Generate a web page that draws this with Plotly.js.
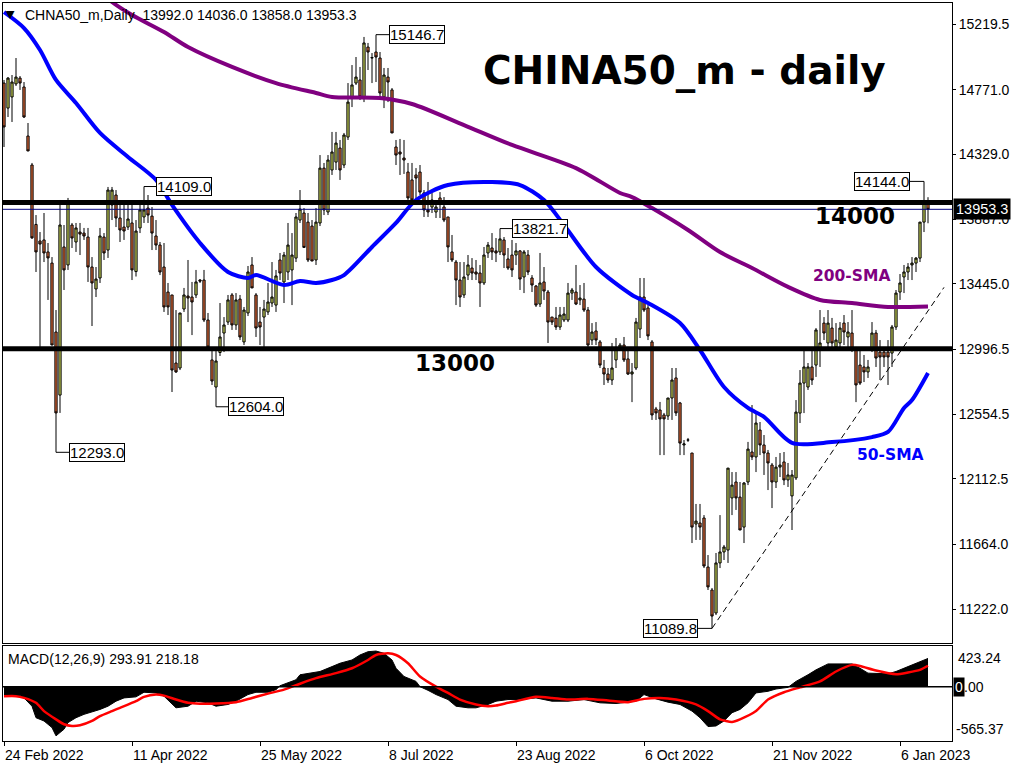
<!DOCTYPE html>
<html><head><meta charset="utf-8">
<script src="https://cdn.plot.ly/plotly-3.0.1.min.js"></script>
<style>html,body{margin:0;padding:0;background:#fff}#chart{width:1024px;height:768px}</style>
</head><body><div id="chart"></div>
<script>
// ---------------- data ----------------
const symbol = 'CHNA50_m,Daily';
const titleText = 'CHINA50_m - daily';
const dateTickIdx = [0, 32, 64, 96, 128, 160, 192, 224];
const dateTickText = ['24 Feb 2022', '11 Apr 2022', '25 May 2022', '8 Jul 2022', '23 Aug 2022', '6 Oct 2022', '21 Nov 2022', '6 Jan 2023'];
const priceTicks = [15219.5, 14771.0, 14329.0, 13887.0, 13445.0, 12996.5, 12554.5, 12112.5, 11664.0, 11222.0];

const openP = [14816,14645,14721,14810,14850,14789,14454,14256,13850,13737,13744,13662,13586,13115,12684,13696,13573,13846,13730,13798,
13791,13764,13559,13409,13484,13764,13675,13983,14051,13894,13832,13832,13860,13528,13826,13901,13962,13907,13771,13709,
13559,13388,13368,12903,12869,13272,13361,13354,13368,13470,13470,13197,12924,12739,12975,13108,13183,13368,13163,13340,
13047,13245,13573,13368,13183,13217,13252,13313,13299,13607,13457,13525,13539,13620,13880,13928,13866,13839,13607,13860,
14235,13935,14222,14276,14372,14256,14447,14721,14816,14837,14721,15062,14987,15028,14987,14721,14857,14769,14379,14345,
14304,14208,14154,14188,14208,14065,13949,13969,13935,14031,13969,13901,13662,13593,13470,13368,13504,13552,13525,13518,
13450,13655,13689,13669,13662,13744,13614,13641,13641,13669,13491,13641,13484,13429,13306,13457,13388,13217,13210,13149,
13197,13197,13381,13388,13334,13340,13265,13060,13122,13047,12869,12828,12787,12924,13006,13026,12931,12828,12869,13135,
13354,13279,13047,12589,12582,12548,12541,12664,12801,12630,12343,12377,12288,11803,11810,11844,11509,11352,11195,11537,
11612,11625,11981,12090,11987,11782,12090,12295,12261,12445,12343,12288,12206,12090,12192,12227,12104,11995,12118,12561,
12766,12739,12876,12889,12992,13176,13040,13142,13013,13040,13176,13081,13108,12992,12889,12876,12842,12992,13108,12978,
12978,12978,12971,13149,13388,13491,13525,13573,13586,13620,13866,13992.0];
const highP = [14837,14857,14871,14987,14864,14823,14543,14270,13914,13798,13928,13723,13627,13265,14017,13846,14031,13860,13860,13860,
13826,13826,13627,13559,13826,13791,14106,14106,14085,13983,13996,13996,13996,13880,14017,14109.0,14051,13969,13880,13730,
13723,13450,13368,13265,13245,13416,13607,13457,13539,13477,13539,13245,12992,12990,13313,13217,13368,13381,13381,13368,
13286,13566,13627,13381,13286,13334,13450,13593,13539,13655,13662,13860,13791,13928,14085,13962,13928,13880,13962,14324,
14270,14324,14482,14482,14427,14475,14816,14939,14994,14926,15131,15090,15021,15146.7,15028,14919,14919,14782,14427,14434,
14427,14270,14270,14235,14256,14085,14140,14065,14017,14071,14037,13901,13778,13607,13593,13593,13641,13620,13607,13573,
13696,13730,13791,13757,13821.7,13764,13689,13744,13723,13675,13675,13675,13504,13436,13655,13559,13402,13217,13286,13286,
13286,13450,13416,13573,13436,13450,13286,13176,13183,13060,12924,12869,13040,13074,13040,13081,12999,12903,13211,13484,
13484,13299,13060,12603,12637,12562,12664,12869,12869,12637,12377,12391,12288,11940,11940,11864,11591,11366,11605,11864,
11660,12185,12158,12158,12090,12090,12364,12616,12561,12500,12411,12309,12220,12261,12288,12295,12220,12172,12650,12855,
12992,12903,13013,13142,13265,13217,13265,13211,13176,13183,13231,13183,13265,13013,12992,12958,12924,13183,13129,13060,
12992,13060,13163,13402,13511,13573,13586,13627,13627,13866,14144.0,14036.0];
const lowP = [14379,14584,14550,14796,14769,14577,14351,13751,13525,13013,13593,13334,13026,12293.0,12562,13402,13539,13689,13662,13641,
13744,13457,13156,13354,13450,13607,13621,13880,13832,13730,13744,13812,13470,13494,13791,13860,13860,13675,13675,13504,
13252,13231,12705,12835,12855,13252,13183,13094,13347,13450,13183,13012,12753,12604.0,12951,12978,13163,13129,13129,13060,
13026,13224,13416,13081,13026,13013,13231,13286,13252,13470,13313,13470,13299,13593,13860,13693,13593,13600,13573,13839,
13914,13914,14188,14222,14154,14235,14427,14652,14803,14700,14686,14905,14816,14823,14700,14645,14686,14475,14256,14188,
14195,14017,13996,14017,14051,13901,13901,13928,13894,13894,13866,13593,13593,13299,13286,13347,13470,13470,13470,13286,
13436,13621,13607,13593,13641,13552,13539,13491,13573,13402,13381,13504,13388,13286,13286,13334,13040,13163,13129,13129,
13183,13183,13334,13299,13299,13252,13013,13026,13026,12869,12753,12767,12753,12869,12992,12910,12821,12636,12855,13074,
13252,13060,12514,12514,12274,12274,12514,12514,12541,12274,12274,12364,11673,11694,11694,11502,11352,11089.8,11181,11502,
11557,11537,11864,11899,11762,11673,12069,12240,12158,12274,12138,12035,11912,12049,12124,12069,12056,11762,12104,12493,
12561,12719,12753,12808,12876,13060,13006,13006,12992,12992,13026,13013,12978,12636,12753,12773,12801,12978,12876,12787,
12876,12753,12876,13129,13334,13381,13470,13470,13525,13593,13798,13858.0];
const closeP = [14516,14850,14823,14857,14816,14584,14352,13758,13662,13716,13655,13621,13026,12562,13846,13539,13996,13757,13826,13784,
13771,13559,13450,13477,13771,13655,14085,14085,13894,13812,13805,13887,13539,13805,13949,13949,13914,13791,13709,13525,
13286,13286,12855,12842,13245,13368,13347,13320,13457,13463,13197,13012,12780,12917,13081,13163,13334,13163,13334,13081,
13265,13525,13416,13142,13149,13272,13320,13354,13498,13518,13641,13709,13641,13901,13955,13693,13607,13600,13866,14235,
13949,14290,14345,14406,14222,14461,14686,14803,14857,14721,15090,15028,14990,14994,14748,14871,14823,14475,14324,14331,
14290,14031,14017,14167,14071,13949,13935,14017,13969,13996,13880,13696,13607,13470,13354,13491,13573,13518,13511,13450,
13641,13709,13662,13655,13751,13641,13552,13539,13669,13477,13662,13525,13436,13299,13450,13395,13183,13183,13149,13231,
13238,13381,13402,13306,13347,13265,13026,13115,13060,12889,12828,12787,12869,13006,13026,12924,12828,12842,13183,13354,
13265,13088,12548,12562,12521,12521,12664,12787,12562,12356,12350,12377,11782,11823,11782,11516,11373,11174,11537,11612,
11646,12185,12069,11981,11762,12083,12315,12261,12493,12343,12288,12220,12090,12192,12206,12104,12138,12138,12568,12766,
12876,12876,12787,13129,13040,13108,13176,13040,13060,13142,13115,13115,12992,12753,12766,12842,12876,13108,12937,12944,
12944,12944,13149,13381,13450,13525,13559,13586,13620,13866,13996,13953.3];

// moving averages
const sma50Idx = [0,5,9,13,18,24,31,38,42,49,56,61,63,70,74,78,82,85,92,98,103,111,122,129,135,140,148,157,161,169,174,180,186,190,197,207,217,221,225,227,231];
const sma50Val = [15301,15192,15042,14837,14680,14475,14311,14154,13983,13723,13525,13484,13504,13436,13463,13450,13470,13504,13696,13860,14017,14119,14140,14119,14017,13846,13559,13368,13313,13176,12992,12739,12596,12535,12357,12363,12397,12432,12596,12650,12835];
const sma200Idx = [26,27,32,40,46,57,68,78,82,94,102,115,127,143,154,157,162,171,179,187,196,204,212,221,231];
const sma200Val = [15395,15370,15281,15165,15062,14926,14816,14748,14721,14714,14673,14529,14393,14235,14065,14037,13962,13812,13661,13552,13423,13334,13313,13286,13290];

// MACD(12,26,9): main (histogram) and signal
const macdIdx = [0,4,5,7,8,10,12,13,14,15,16,18,20,23,24,26,28,30,33,35,38,40,42,43,46,48,51,53,56,58,61,63,66,68,69,71,73,74,77,79,82,84,87,89,91,93,95,97,98,100,103,104,106,108,111,113,116,118,121,123,126,128,133,137,141,145,149,153,158,160,163,166,169,172,174,176,178,180,182,184,186,188,191,193,196,198,201,203,206,212,214,216,221,223,226,228,231];
const macdVal = [-93,-93,-117,-203,-323,-357,-426,-512,-477,-443,-374,-323,-288,-254,-237,-203,-151,-117,-106,-58,-65,-99,-185,-220,-203,-151,-168,-203,-185,-151,-82,-58,-58,-31,10,38,72,124,141,158,209,244,278,330,364,371,347,278,192,106,55,0,-38,-82,-134,-203,-220,-220,-185,-151,-134,-134,-117,-151,-151,-134,-168,-175,-151,-82,-127,-161,-185,-254,-323,-415,-409,-357,-271,-237,-168,-65,-48,-24,-7,55,124,175,237,237,192,141,134,158,209,244,293.91];
const signalIdx = [0,3,5,8,10,13,15,17,19,22,24,27,29,33,35,38,40,43,46,49,53,58,62,66,70,74,78,83,87,91,93,96,98,101,104,108,111,114,118,121,123,126,128,133,137,141,146,151,156,160,164,168,173,176,179,182,184,188,191,195,199,204,208,212,214,218,223,226,229,231];
const signalVal = [-99,-99,-117,-168,-254,-340,-391,-409,-402,-357,-306,-254,-220,-151,-106,-82,-93,-134,-168,-178,-175,-161,-117,-72,-31,31,89,141,192,278,330,347,330,244,106,0,-65,-134,-185,-203,-196,-168,-151,-106,-117,-134,-127,-144,-161,-127,-117,-134,-185,-254,-340,-367,-340,-254,-134,-58,-7,55,158,227,216,168,130,148,175,218.18];
const macdRange = [-565.37, 423.24];

// horizontal levels, trend line, price labels
const levels = [14000, 13000];
const levelLabels = ['14000', '13000'];
const levelLabelIdx = [212.75, 112.75];
const trendIdx = [177, 235];
const trendVal = [11089.8, 13420];
const markIdx = [93, 35, 124, 230, 53, 13, 177];
const markSide = ['high', 'high', 'high', 'high', 'low', 'low', 'low'];
const markShift = [41, 40, 40, -42, 40, 41, -42];
const smaLabels = [{text: '200-SMA', idx: 211.75, val: 13500, color: '#800080'}, {text: '50-SMA', idx: 221.5, val: 12275, color: '#0000ff'}];

// ---------------- figure ----------------
const barIdx = openP.map((_, i) => i);
const n = closeP.length;
const lastClose = closeP[n - 1];
const FONT = 'Liberation Sans, Arial, sans-serif';
const BOLD = 'DejaVu Sans, Verdana, sans-serif';

const traces = [
  {
    type: 'candlestick', x: barIdx, open: openP, high: highP, low: lowP, close: closeP,
    xaxis: 'x', yaxis: 'y', whiskerwidth: 0, hoverinfo: 'skip',
    increasing: {line: {color: '#000000', width: 1}, fillcolor: '#c8d458'},
    decreasing: {line: {color: '#000000', width: 1}, fillcolor: '#e06a38'}
  },
  {
    type: 'scatter', mode: 'lines', x: sma200Idx, y: sma200Val, xaxis: 'x', yaxis: 'y',
    line: {color: '#800080', width: 4, shape: 'spline', smoothing: 0.8}, hoverinfo: 'skip'
  },
  {
    type: 'scatter', mode: 'lines', x: sma50Idx, y: sma50Val, xaxis: 'x', yaxis: 'y',
    line: {color: '#0000ff', width: 4, shape: 'spline', smoothing: 0.8}, hoverinfo: 'skip'
  },
  {
    type: 'scatter', mode: 'lines', x: macdIdx, y: macdVal, xaxis: 'x2', yaxis: 'y2',
    fill: 'tozeroy', fillcolor: '#000000', line: {color: '#000000', width: 1}, hoverinfo: 'skip'
  },
  {
    type: 'scatter', mode: 'lines', x: signalIdx, y: signalVal, xaxis: 'x2', yaxis: 'y2',
    line: {color: '#ff0000', width: 2.5, shape: 'spline', smoothing: 0.6}, hoverinfo: 'skip'
  }
];

const shapes = [];
levels.forEach(v => shapes.push({type: 'line', xref: 'paper', x0: 0, x1: 1, yref: 'y', y0: v, y1: v,
  line: {color: '#000000', width: 5}, layer: 'above'}));
shapes.push({type: 'line', xref: 'paper', x0: 0, x1: 1, yref: 'y', y0: lastClose, y1: lastClose,
  line: {color: '#000080', width: 1}, layer: 'above'});
shapes.push({type: 'line', xref: 'x', yref: 'y', x0: trendIdx[0], y0: trendVal[0], x1: trendIdx[1], y1: trendVal[1],
  line: {color: '#000000', width: 1, dash: '6px,4px'}, layer: 'above'});
shapes.push({type: 'line', xref: 'paper', x0: 0, x1: 1, yref: 'y2', y0: 0, y1: 0,
  line: {color: '#000000', width: 1.5}, layer: 'above'});

const annotations = [];
// header
annotations.push({xref: 'paper', yref: 'paper', x: 0, y: 1, xanchor: 'left', yanchor: 'top', xshift: 1, yshift: -3,
  text: '▼', showarrow: false, font: {family: BOLD, size: 11, color: '#000'}});
annotations.push({xref: 'paper', yref: 'paper', x: 0, y: 1, xanchor: 'left', yanchor: 'top', xshift: 20, yshift: -2,
  text: symbol + '\u00a0\u00a0' + [openP[n-1], highP[n-1], lowP[n-1], closeP[n-1]].map(v => v.toFixed(1)).join(' '),
  showarrow: false, font: {family: FONT, size: 14, color: '#000'}});
// title
annotations.push({xref: 'paper', yref: 'paper', x: 0.7176, y: 0.908, xanchor: 'center', yanchor: 'middle',
  text: '<b>' + titleText + '</b>', showarrow: false, font: {family: BOLD, size: 39, color: '#000'}});
// level labels
levels.forEach((v, i) => annotations.push({xref: 'x', yref: 'y', x: levelLabelIdx[i], y: v, xanchor: 'center', yanchor: 'top',
  yshift: 1, text: '<b>' + levelLabels[i] + '</b>', showarrow: false, font: {family: BOLD, size: 23, color: '#000'}}));
// SMA labels
smaLabels.forEach(s => annotations.push({xref: 'x', yref: 'y', x: s.idx, y: s.val, xanchor: 'center', yanchor: 'middle',
  text: '<b>' + s.text + '</b>', showarrow: false, font: {family: BOLD, size: 15.5, color: s.color}}));
// high / low price labels
markIdx.forEach((k, i) => {
  const v = markSide[i] === 'high' ? highP[k] : lowP[k];
  annotations.push({xref: 'x', yref: 'y', x: k, y: v, text: v.toFixed(1), showarrow: true, arrowhead: 0,
    arrowwidth: 1, arrowcolor: '#000', ax: markShift[i], ay: 0, standoff: 0, startstandoff: 0,
    bgcolor: '#ffffff', bordercolor: '#000000', borderwidth: 1, borderpad: 0,
    font: {family: FONT, size: 15, color: '#000'}});
});
// current price box on the axis
annotations.push({xref: 'paper', yref: 'y', x: 1, y: lastClose, xanchor: 'left', yanchor: 'middle', xshift: 1,
  text: lastClose.toFixed(1), showarrow: false, bgcolor: '#000000', borderpad: 2,
  font: {family: FONT, size: 14.5, color: '#ffffff'}});
// MACD header and scale labels
annotations.push({xref: 'paper', yref: 'paper', x: 0, y: 0.1287, xanchor: 'left', yanchor: 'top', xshift: 3, yshift: -3,
  text: 'MACD(12,26,9) ' + macdVal[macdVal.length - 1].toFixed(2) + ' ' + signalVal[signalVal.length - 1].toFixed(2),
  showarrow: false, font: {family: FONT, size: 14, color: '#000'}});
annotations.push({xref: 'paper', yref: 'y2', x: 1, y: macdRange[1], xanchor: 'left', yanchor: 'top', xshift: 4, yshift: -2,
  text: macdRange[1].toFixed(2), showarrow: false, font: {family: FONT, size: 14, color: '#000'}});
annotations.push({xref: 'paper', yref: 'y2', x: 1, y: macdRange[0], xanchor: 'left', yanchor: 'bottom', xshift: 2, yshift: 2,
  text: macdRange[0].toFixed(2), showarrow: false, font: {family: FONT, size: 14, color: '#000'}});
annotations.push({xref: 'paper', yref: 'y2', x: 1, y: 0, xanchor: 'left', yanchor: 'middle', xshift: 1,
  text: '0', showarrow: false, bgcolor: '#000000', borderpad: 1, font: {family: FONT, size: 14, color: '#ffffff'}});
annotations.push({xref: 'paper', yref: 'y2', x: 1, y: 0, xanchor: 'left', yanchor: 'middle', xshift: 10,
  text: '.00', showarrow: false, font: {family: FONT, size: 14, color: '#000'}});
// date labels
dateTickIdx.forEach((k, i) => annotations.push({xref: 'x2', yref: 'paper', x: k, y: 0, xanchor: 'left', yanchor: 'top',
  xshift: -1, yshift: -4, text: dateTickText[i], showarrow: false, font: {family: FONT, size: 14, color: '#000'}}));

const layout = {
  width: 1024, height: 768,
  margin: {l: 3, r: 72, t: 3, b: 27, pad: 0},
  paper_bgcolor: '#ffffff', plot_bgcolor: '#ffffff',
  showlegend: false, hovermode: false, dragmode: false,
  boxgap: 0.2,
  xaxis: {domain: [0, 1], range: [-0.25, 237], anchor: 'y', showticklabels: false, ticks: '',
    showgrid: false, zeroline: false, showline: true, mirror: true, linecolor: '#000', linewidth: 1,
    rangeslider: {visible: false}, fixedrange: true},
  yaxis: {domain: [0.1328, 1], range: [10990, 15363], side: 'right', anchor: 'x',
    tickvals: priceTicks, ticktext: priceTicks.map(v => v.toFixed(1)), ticks: 'outside', ticklen: 3,
    tickcolor: '#000', tickfont: {family: FONT, size: 14, color: '#000'},
    showgrid: false, zeroline: false, showline: true, mirror: true, linecolor: '#000', linewidth: 1, fixedrange: true},
  xaxis2: {domain: [0, 1], range: [-0.25, 237], anchor: 'y2', tickvals: dateTickIdx, showticklabels: false,
    ticks: 'outside', ticklen: 4, tickcolor: '#000',
    showgrid: false, zeroline: false, showline: true, mirror: true, linecolor: '#000', linewidth: 1, fixedrange: true},
  yaxis2: {domain: [0, 0.1287], range: macdRange, side: 'right', anchor: 'x2', showticklabels: false, ticks: '',
    showgrid: false, zeroline: false, showline: true, mirror: true, linecolor: '#000', linewidth: 1, fixedrange: true},
  shapes: shapes,
  annotations: annotations
};

Plotly.newPlot('chart', traces, layout, {displayModeBar: false, staticPlot: true});
</script>
</body></html>
